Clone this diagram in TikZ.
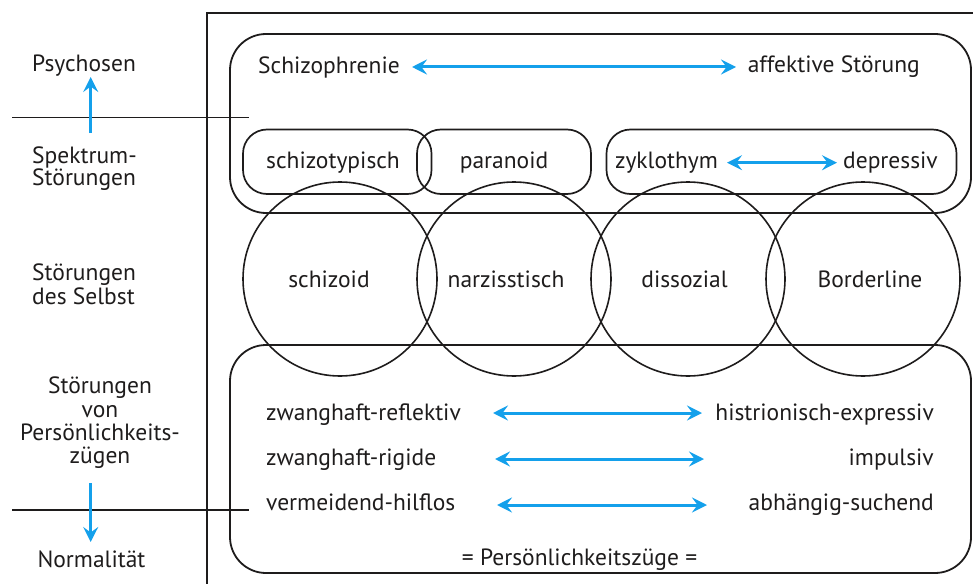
\documentclass[tikz,border=0pt]{standalone}
\usepackage{fontspec}
\setmainfont{PT Sans}
\usetikzlibrary{arrows.meta}
\definecolor{arrblue}{RGB}{20,160,235}
\definecolor{ink}{RGB}{30,28,28}
\begin{document}
\begin{tikzpicture}[x=1pt,y=-1pt,
  lbl/.style={inner sep=0pt, font=\fontsize{23.5}{25}\selectfont, text=ink},
  bar/.style={draw=ink, line width=1.5pt},
  bigbox/.style={draw=ink, line width=1.8pt, rounded corners=36pt},
  smallbox/.style={draw=ink, line width=1.7pt, rounded corners=24pt},
  ring/.style={draw=ink, line width=1.6pt, circle, minimum size=194pt, inner sep=0pt},
  dbl/.style={draw=arrblue, line width=3pt, {Stealth[length=15pt,width=15pt,inset=5.5pt]}-{Stealth[length=15pt,width=15pt,inset=5.5pt]}},
  sgl/.style={draw=arrblue, line width=3pt, -{Stealth[length=15pt,width=15pt,inset=5.5pt]}}
]
\useasboundingbox (0,0) rectangle (973,583);

% frame and separating lines
\draw[bar] (975,13) -- (207,13) -- (207,585);
\draw[bar] (12,117.5) -- (249,117.5);
\draw[bar] (12,510) -- (249,510);

% containers
\draw[bigbox] (230,34) rectangle (971,213);
\draw[bigbox] (230,345) rectangle (971,573);
\draw[smallbox] (243,129.5) rectangle (431.5,194);
\draw[smallbox] (417,129.5) rectangle (591,194);
\draw[smallbox] (606.5,129.5) rectangle (956.5,194);

% circles
\node[ring] (c1) at (340,279) {};
\node[ring] (c2) at (514,279) {};
\node[ring] (c3) at (688,279) {};
\node[ring] (c4) at (863,279) {};

% left column
\node[lbl, anchor=base west] (psy) at (32,72) {Psychosen};
\node[lbl, anchor=base west] (spek1) at (32,163) {Spektrum-};
\node[lbl, anchor=base west] (spek2) at (32,185) {Störungen};
\node[lbl, anchor=base west] (selbst1) at (32,280) {Störungen};
\node[lbl, anchor=base west] (selbst2) at (32,304) {des Selbst};
\node[lbl, anchor=base] (pz1) at (100,393) {Störungen};
\node[lbl, anchor=base] (pz2) at (100,417) {von};
\node[lbl, anchor=base] (pz3) at (100,440) {Persönlichkeits-};
\node[lbl, anchor=base] (pz4) at (100,463) {zügen};
\node[lbl, anchor=base] (norm) at (91.5,567) {Normalität};

\coordinate (up0) at (90.7,133);
\coordinate (up1) at (90.7,77);
\coordinate (dn0) at (90.7,483);
\coordinate (dn1) at (90.7,542);
\draw[sgl] (up0) -- (up1);
\draw[sgl] (dn0) -- (dn1);

% top box
\node[lbl, anchor=base west] (schizo) at (258,74) {Schizophrenie};
\node[lbl, anchor=base east] (affekt) at (920,73) {affektive Störung};
\coordinate (t0) at (412,67);
\coordinate (t1) at (736,67);
\draw[dbl] (t0) -- (t1);

\node[lbl, anchor=base] (styp) at (333,168) {schizotypisch};
\node[lbl, anchor=base] (para) at (504,168) {paranoid};
\node[lbl, anchor=base west] (zyk) at (615,168) {zyklothym};
\node[lbl, anchor=base east] (depr) at (938,168) {depressiv};
\coordinate (z0) at (727,162.7);
\coordinate (z1) at (837,162.7);
\draw[dbl] (z0) -- (z1);

% circles text
\node[lbl, anchor=base] (tz) at (329,287) {schizoid};
\node[lbl, anchor=base] (tn) at (506,287) {narzisstisch};
\node[lbl, anchor=base] (td) at (684.5,287) {dissozial};
\node[lbl, anchor=base] (tb) at (870,287) {Borderline};

% bottom box
\node[lbl, anchor=base west] (l1) at (266,420) {zwanghaft-reflektiv};
\node[lbl, anchor=base east] (r1) at (934,420) {histrionisch-expressiv};
\node[lbl, anchor=base west] (l2) at (266,465) {zwanghaft-rigide};
\node[lbl, anchor=base east] (r2) at (934,465) {impulsiv};
\node[lbl, anchor=base west] (l3) at (266,510) {vermeidend-hilflos};
\node[lbl, anchor=base east] (r3) at (934,510) {abhängig-suchend};
\node[lbl, anchor=base] (pzz) at (579.5,565) {= Persönlichkeitszüge =};

\coordinate (b10) at (493,413);
\coordinate (b11) at (702,413);
\coordinate (b20) at (495,459);
\coordinate (b21) at (704,459);
\coordinate (b30) at (497,505);
\coordinate (b31) at (707,505);
\draw[dbl] (b10) -- (b11);
\draw[dbl] (b20) -- (b21);
\draw[dbl] (b30) -- (b31);
\end{tikzpicture}
\end{document}
